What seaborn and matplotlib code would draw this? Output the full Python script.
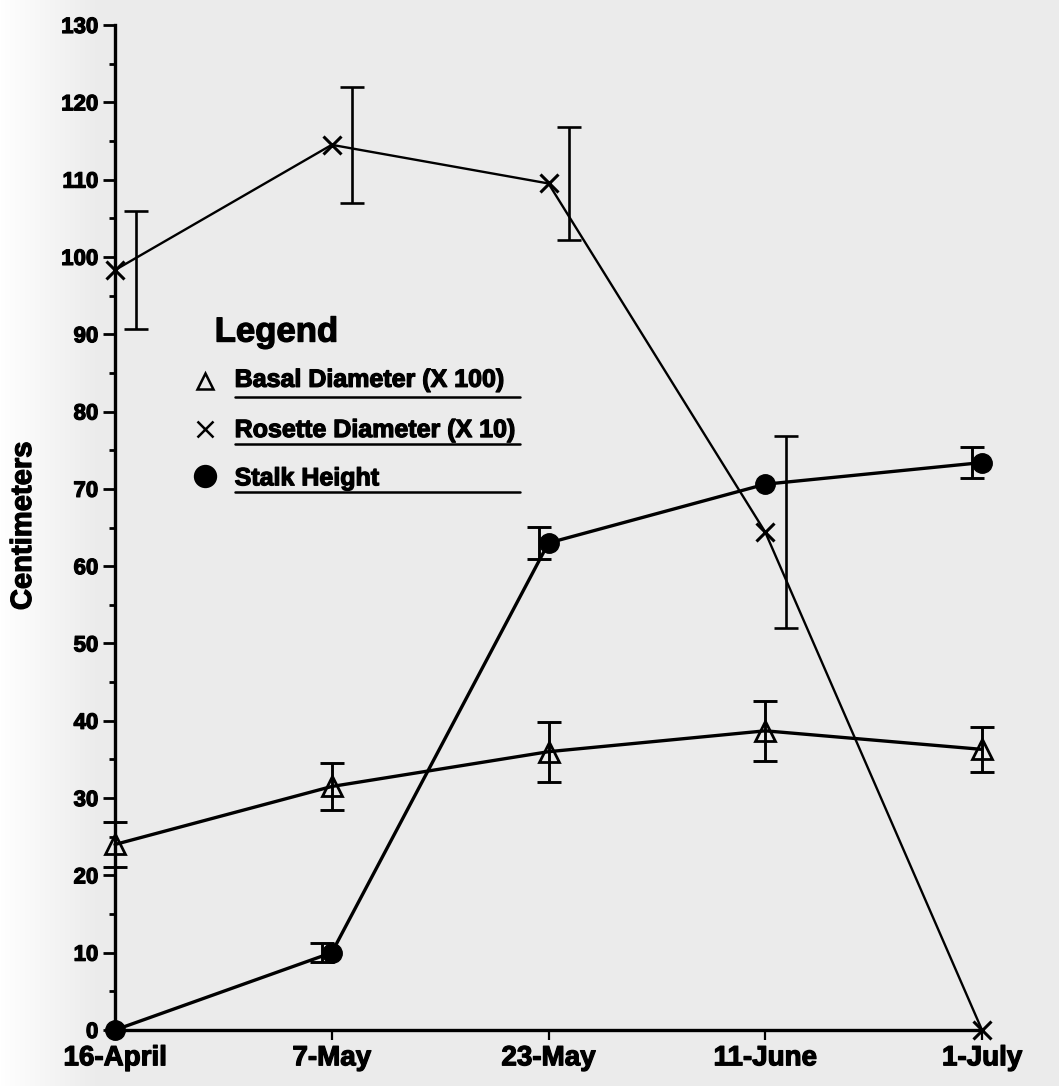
import numpy as np
import matplotlib
matplotlib.use("Agg")
import matplotlib.pyplot as plt
import matplotlib.patheffects as pe
import seaborn as sns

# Sampling dates (equally spaced categories along the x axis)
dates = ["16-April", "7-May", "23-May", "11-June", "1-July"]

# Basal diameter (x 100), cm, with error half-widths
basal = [24.0, 31.5, 36.0, 38.7, 36.3]
basal_err = [2.9, 3.0, 3.9, 3.9, 2.9]

# Rosette diameter (x 10), cm, with error half-widths
rosette = [98.3, 114.5, 109.5, 64.4, 0.0]
rosette_err = [7.6, 7.5, 7.3, 12.4, np.nan]

# Stalk height, cm, with error half-widths
stalk = [0.0, 10.0, 63.0, 70.6, 73.4]
stalk_err = [np.nan, 1.2, 2.1, np.nan, 2.0]

y_ticks = list(range(0, 131, 10))

sns.set_style("ticks")
plt.rcParams["font.family"] = ["Liberation Sans", "DejaVu Sans"]
plt.rcParams["font.weight"] = "bold"

W, H = 1059, 1086
fig = plt.figure(figsize=(W / 100, H / 100), dpi=100)
bg = np.array([0.925, 0.925, 0.925])
fig.patch.set_facecolor(bg)

# paper tone: white at the left margin fading into light grey
xs = np.linspace(0, 1, W)
fade = np.clip(xs * W / 95.0, 0, 1)[None, :, None]
img = np.ones((H, W, 3)) * (1 - fade) + bg[None, None, :] * fade
fig.figimage(img, 0, 0, zorder=0)

ax = fig.add_axes([115 / W, 1 - 1030 / H, (982 - 115) / W, (1030 - 25) / H])
ax.set_facecolor("none")
ax.set_zorder(2)

pos = np.arange(len(dates), dtype=float)
ink = "black"
heavy = [pe.withStroke(linewidth=0.9, foreground=ink)]


def draw_errors(values, errs, offset, lw):
    v = np.asarray(values, float)
    e = np.asarray(errs, float)
    m = ~np.isnan(e)
    ax.errorbar(pos[m] + offset, v[m], yerr=e[m], fmt="none", ecolor=ink,
                elinewidth=lw, capsize=8.5, capthick=lw, clip_on=False,
                zorder=4)


# Basal diameter: open triangles
sns.lineplot(x=pos, y=basal, ax=ax, color=ink, lw=2.4, marker="^", ms=14,
             markerfacecolor="none", mec=ink, mew=2.0, clip_on=False,
             zorder=5)
draw_errors(basal, basal_err, 0.0, 2.1)

# Rosette diameter: crosses, error bars set slightly to the right
sns.lineplot(x=pos, y=rosette, ax=ax, color=ink, lw=1.7, marker="x", ms=13,
             mec=ink, mew=2.2, clip_on=False, zorder=5)
draw_errors(rosette, rosette_err, 0.095, 1.9)

# Stalk height: filled circles, error bars set slightly to the left
sns.lineplot(x=pos, y=stalk, ax=ax, color=ink, lw=2.4, marker="o", ms=14,
             markerfacecolor=ink, mec=ink, mew=1.0, clip_on=False, zorder=5)
draw_errors(stalk, stalk_err, -0.045, 2.1)

ax.set_xlim(0, len(dates) - 1)
ax.set_ylim(0, 130)
ax.set_xticks(pos)
ax.set_xticklabels(dates, fontsize=20, fontweight="bold")
ax.set_yticks(y_ticks)
ax.set_yticklabels([str(t) for t in y_ticks], fontsize=16, fontweight="bold")
ax.set_yticks(np.arange(5, 130, 10), minor=True)
ax.tick_params(axis="y", which="major", direction="out", length=9, width=2,
               pad=3, colors=ink)
ax.tick_params(axis="y", which="minor", direction="out", length=4, width=2,
               colors=ink)
ax.tick_params(axis="x", which="major", direction="out", length=7, width=1.6,
               pad=4, colors=ink)
for lab in ax.get_xticklabels() + ax.get_yticklabels():
    lab.set_path_effects(heavy)
sns.despine(ax=ax)
for side in ("left", "bottom"):
    ax.spines[side].set_linewidth(2.4)
    ax.spines[side].set_color(ink)
ax.set_xlabel("")
ax.set_ylabel("")

fig.text(23 / W, 1 - 526 / H, "Centimeters", rotation=90, ha="center",
         va="center", fontsize=21, fontweight="bold", color=ink,
         path_effects=heavy)

# Legend block, drawn by hand with underlined entries
tA = ax.transAxes
ax.text(0.115, 0.685, "Legend", transform=tA, fontsize=25,
        fontweight="bold", ha="left", va="baseline", color=ink,
        path_effects=heavy)
entries = [
    ("^", "none", "Basal Diameter (X 100)", 0.640, 0.630, 0.646, 12),
    ("x", ink, "Rosette Diameter (X 10)", 0.590, 0.583, 0.598, 11),
    ("o", ink, "Stalk Height", 0.542, 0.535, 0.551, 15),
]
for mk, fc, label, base, uline, my, msz in entries:
    ax.plot([0.104], [my], transform=tA, marker=mk, ms=msz, mfc=fc,
            mec=ink, mew=1.8, ls="none", clip_on=False)
    ax.text(0.138, base, label, transform=tA, fontsize=18,
            fontweight="bold", ha="left", va="baseline", color=ink,
            path_effects=heavy)
    ax.plot([0.138, 0.467], [uline, uline], transform=tA, color=ink, lw=1.8,
            clip_on=False)

fig.savefig("out.png", dpi=100, facecolor=fig.get_facecolor())
